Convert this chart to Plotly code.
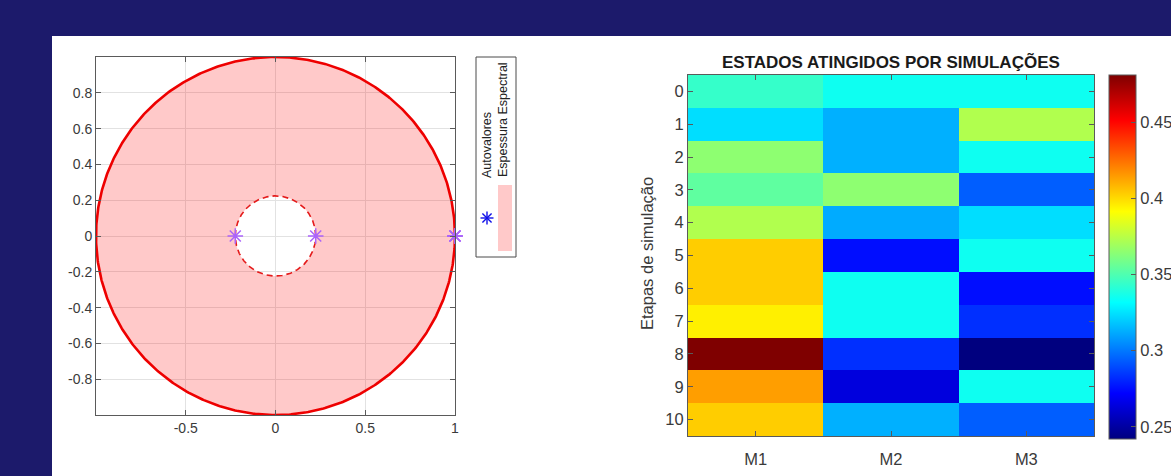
import numpy as np
import plotly.graph_objects as go

W, H = 1171, 476
FONT = "Liberation Sans, Arial, Helvetica, sans-serif"
TXT = "#3a3a3a"
AX = "#5a5a5a"

# ---------------- data ----------------
# eigenvalues of the transition matrix (real parts / imaginary parts)
eig_re = [1.0, 1.0, 1.0, 0.224, -0.224]
eig_im = [0.0, 0.0, 0.0, 0.0, 0.0]
spectral_radius = 1.0
second_modulus = 0.224

# state occupation per simulation step
etapas = list(range(11))
estados = ["M1", "M2", "M3"]
prob_M1 = [0.344, 0.324, 0.365, 0.354, 0.373, 0.403, 0.403, 0.395, 0.481, 0.414, 0.403]
prob_M2 = [0.335, 0.313, 0.313, 0.365, 0.312, 0.275, 0.335, 0.335, 0.283, 0.264, 0.313]
prob_M3 = [0.335, 0.373, 0.335, 0.294, 0.324, 0.335, 0.275, 0.283, 0.242, 0.335, 0.294]

cbar_ticks = [0.25, 0.30, 0.35, 0.40, 0.45]
circ_xticks = [-0.5, 0, 0.5, 1]
circ_yticks = [-0.8, -0.6, -0.4, -0.2, 0, 0.2, 0.4, 0.6, 0.8]

# MATLAB-style jet colormap
jet = [[0.0, "#00007f"], [0.125, "#0000ff"], [0.375, "#00ffff"],
       [0.625, "#ffff00"], [0.875, "#ff0000"], [1.0, "#7f0000"]]

PINK = "rgba(255,0,0,0.21)"
BLUE = "#1010e8"


def px_x(p):
    return p / W


def px_y(p):
    return 1 - p / H


def lbl(v):
    return f"{v:g}"


fig = go.Figure()

# ---------------- spectral disc ----------------
th = np.linspace(0, 2 * np.pi, 721)
ox, oy = spectral_radius * np.cos(th), spectral_radius * np.sin(th)
ix, iy = second_modulus * np.cos(th[::-1]), second_modulus * np.sin(th[::-1])

# annulus between the spectral radius and the second largest modulus
fig.add_trace(go.Scatter(
    x=np.concatenate([ox, ix]), y=np.concatenate([oy, iy]),
    mode="lines", fill="toself", fillcolor=PINK,
    line=dict(width=0, color="rgba(0,0,0,0)"),
    hoverinfo="skip", showlegend=False, xaxis="x", yaxis="y"))

fig.add_trace(go.Scatter(
    x=ox, y=oy, mode="lines", line=dict(color="#ee0000", width=2.6),
    hoverinfo="skip", showlegend=False, cliponaxis=False,
    xaxis="x", yaxis="y"))

fig.add_trace(go.Scatter(
    x=second_modulus * np.cos(th), y=second_modulus * np.sin(th),
    mode="lines", line=dict(color="#e41a1a", width=1.6, dash="6px,4px"),
    hoverinfo="skip", showlegend=False, xaxis="x", yaxis="y"))

fig.add_trace(go.Scatter(
    x=eig_re, y=eig_im, mode="markers", cliponaxis=False,
    marker=dict(symbol="asterisk-open", size=13,
                line=dict(color=BLUE, width=1.5)),
    name="Autovalores", showlegend=False, xaxis="x", yaxis="y"))

# ---------------- heatmap ----------------
z = [[a, b, c] for a, b, c in zip(prob_M1, prob_M2, prob_M3)]
fig.add_trace(go.Heatmap(
    z=z, x=[0, 1, 2], y=etapas, colorscale=jet,
    zmin=min(min(r) for r in z), zmax=max(max(r) for r in z),
    xaxis="x2", yaxis="y2",
    colorbar=dict(
        x=px_x(1109), xanchor="left", xpad=0, ypad=0,
        y=px_y(257), yanchor="middle",
        thickness=27, thicknessmode="pixels",
        len=364, lenmode="pixels",
        outlinewidth=1, outlinecolor=AX,
        tickvals=cbar_ticks, ticktext=[f"{v:g}" for v in cbar_ticks],
        ticks="inside", ticklen=5, tickcolor=AX,
        tickfont=dict(family=FONT, size=16.5, color=TXT)),
))

axis_common = dict(showline=True, linecolor=AX, linewidth=1, mirror="ticks",
                   ticks="inside", tickcolor=AX, ticklen=5, zeroline=False)

fig.update_layout(
    width=W, height=H, autosize=False,
    margin=dict(l=0, r=0, t=0, b=0, autoexpand=False),
    paper_bgcolor="#1c1a6b", plot_bgcolor="white",
    font=dict(family=FONT, color=TXT),
    xaxis=dict(domain=[px_x(96), px_x(455)], range=[-1, 1],
               tickvals=circ_xticks, ticktext=[lbl(v) for v in circ_xticks],
               showgrid=True, gridcolor="#e2e2e2", gridwidth=1,
               tickfont=dict(size=14), anchor="y", **axis_common),
    yaxis=dict(domain=[px_y(415), px_y(57)], range=[-1, 1],
               tickvals=circ_yticks, ticktext=[lbl(v) for v in circ_yticks],
               showgrid=True, gridcolor="#e2e2e2", gridwidth=1,
               tickfont=dict(size=14), anchor="x", **axis_common),
    xaxis2=dict(domain=[px_x(688), px_x(1094)], range=[-0.5, 2.5],
                tickvals=[0, 1, 2], ticktext=estados, showgrid=False,
                tickfont=dict(size=16.5), anchor="y2", ticklabelstandoff=8,
                **axis_common),
    yaxis2=dict(domain=[px_y(436), px_y(75)], range=[10.5, -0.5],
                tickvals=etapas, ticktext=[str(v) for v in etapas],
                showgrid=False, tickfont=dict(size=16.5), anchor="x2",
                **axis_common),
)

# legend key asterisk drawn as four crossing strokes
lcx, lcy, arm = 487, 218, 6.5
star = []
for ang in (0, 45, 90, 135):
    dx = arm * np.cos(np.radians(ang))
    dy = arm * np.sin(np.radians(ang))
    star.append(dict(type="line", xref="paper", yref="paper",
                     x0=px_x(lcx - dx), y0=px_y(lcy - dy),
                     x1=px_x(lcx + dx), y1=px_y(lcy + dy),
                     line=dict(color=BLUE, width=1.4)))

shapes = [
    # white canvas panel
    dict(type="rect", xref="paper", yref="paper", x0=px_x(52), x1=1.01,
         y0=-0.01, y1=px_y(36), fillcolor="white", line=dict(width=0),
         layer="below"),
    # rotated legend box
    dict(type="rect", xref="paper", yref="paper", x0=px_x(476), x1=px_x(516),
         y0=px_y(257), y1=px_y(57),
         fillcolor="white", line=dict(color="#4a4a4a", width=1)),
    dict(type="rect", xref="paper", yref="paper", x0=px_x(498), x1=px_x(512),
         y0=px_y(251), y1=px_y(185), fillcolor=PINK, line=dict(width=0)),
] + star
fig.update_layout(shapes=shapes)

ann = [
    dict(text="Autovalores", xref="paper", yref="paper",
         x=px_x(487), y=px_y(145), textangle=-90, showarrow=False,
         xanchor="center", yanchor="middle",
         font=dict(family=FONT, size=12.5, color="#222")),
    dict(text="Espessura Espectral", xref="paper", yref="paper",
         x=px_x(503), y=px_y(120), textangle=-90, showarrow=False,
         xanchor="center", yanchor="middle",
         font=dict(family=FONT, size=12.5, color="#222")),
    dict(text="<b>ESTADOS ATINGIDOS POR SIMULAÇÕES</b>", xref="paper",
         yref="paper", x=px_x(891), y=px_y(62), showarrow=False,
         xanchor="center", yanchor="middle",
         font=dict(family=FONT, size=17, color="#1a1a1a")),
    dict(text="Etapas de simulação", xref="paper", yref="paper",
         x=px_x(647), y=px_y(254), textangle=-90, showarrow=False,
         xanchor="center", yanchor="middle",
         font=dict(family=FONT, size=16.5, color=TXT)),
    dict(text="Estados", xref="paper", yref="paper",
         x=px_x(891), y=px_y(471), showarrow=False,
         xanchor="center", yanchor="top",
         font=dict(family=FONT, size=16.5, color=TXT)),
]
fig.update_layout(annotations=ann)

fig.write_html("out.html")
